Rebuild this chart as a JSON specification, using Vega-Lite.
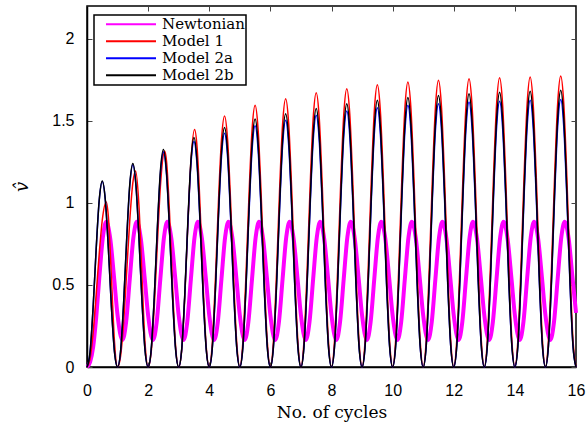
{
"$schema":"https://vega.github.io/schema/vega-lite/v6.json",
"autosize":{"type":"none"},
"width":489,"height":361,
"padding":{"left":87,"top":6,"right":11,"bottom":72},
"background":"white",
"datasets":{
"N":[{"x":0,"v":0},{"x":0.1,"v":0.03},{"x":0.2,"v":0.12},{"x":0.3,"v":0.3},{"x":0.4,"v":0.537},{"x":0.52,"v":0.792},{"x":0.63,"v":0.885},{"x":0.76,"v":0.783},{"x":0.89,"v":0.536},
{"x":1,"v":0.315},{"x":1.16,"v":0.165},{"x":1.28,"v":0.274},{"x":1.4,"v":0.537},{"x":1.52,"v":0.792},{"x":1.63,"v":0.885},{"x":1.76,"v":0.783},{"x":1.89,"v":0.536},
{"x":2,"v":0.315},{"x":2.16,"v":0.165},{"x":2.28,"v":0.274},{"x":2.4,"v":0.537},{"x":2.52,"v":0.792},{"x":2.63,"v":0.885},{"x":2.76,"v":0.783},{"x":2.89,"v":0.536},
{"x":3,"v":0.315},{"x":3.16,"v":0.165},{"x":3.28,"v":0.274},{"x":3.4,"v":0.537},{"x":3.52,"v":0.792},{"x":3.63,"v":0.885},{"x":3.76,"v":0.783},{"x":3.89,"v":0.536},
{"x":4,"v":0.315},{"x":4.16,"v":0.165},{"x":4.28,"v":0.274},{"x":4.4,"v":0.537},{"x":4.52,"v":0.792},{"x":4.63,"v":0.885},{"x":4.76,"v":0.783},{"x":4.89,"v":0.536},
{"x":5,"v":0.315},{"x":5.16,"v":0.165},{"x":5.28,"v":0.274},{"x":5.4,"v":0.537},{"x":5.52,"v":0.792},{"x":5.63,"v":0.885},{"x":5.76,"v":0.783},{"x":5.89,"v":0.536},
{"x":6,"v":0.315},{"x":6.16,"v":0.165},{"x":6.28,"v":0.274},{"x":6.4,"v":0.537},{"x":6.52,"v":0.792},{"x":6.63,"v":0.885},{"x":6.76,"v":0.783},{"x":6.89,"v":0.536},
{"x":7,"v":0.315},{"x":7.16,"v":0.165},{"x":7.28,"v":0.274},{"x":7.4,"v":0.537},{"x":7.52,"v":0.792},{"x":7.63,"v":0.885},{"x":7.76,"v":0.783},{"x":7.89,"v":0.536},
{"x":8,"v":0.315},{"x":8.16,"v":0.165},{"x":8.28,"v":0.274},{"x":8.4,"v":0.537},{"x":8.52,"v":0.792},{"x":8.63,"v":0.885},{"x":8.76,"v":0.783},{"x":8.89,"v":0.536},
{"x":9,"v":0.315},{"x":9.16,"v":0.165},{"x":9.28,"v":0.274},{"x":9.4,"v":0.537},{"x":9.52,"v":0.792},{"x":9.63,"v":0.885},{"x":9.76,"v":0.783},{"x":9.89,"v":0.536},
{"x":10,"v":0.315},{"x":10.16,"v":0.165},{"x":10.28,"v":0.274},{"x":10.4,"v":0.537},{"x":10.52,"v":0.792},{"x":10.63,"v":0.885},{"x":10.76,"v":0.783},{"x":10.89,"v":0.536},
{"x":11,"v":0.315},{"x":11.16,"v":0.165},{"x":11.28,"v":0.274},{"x":11.4,"v":0.537},{"x":11.52,"v":0.792},{"x":11.63,"v":0.885},{"x":11.76,"v":0.783},{"x":11.89,"v":0.536},
{"x":12,"v":0.315},{"x":12.16,"v":0.165},{"x":12.28,"v":0.274},{"x":12.4,"v":0.537},{"x":12.52,"v":0.792},{"x":12.63,"v":0.885},{"x":12.76,"v":0.783},{"x":12.89,"v":0.536},
{"x":13,"v":0.315},{"x":13.16,"v":0.165},{"x":13.28,"v":0.274},{"x":13.4,"v":0.537},{"x":13.52,"v":0.792},{"x":13.63,"v":0.885},{"x":13.76,"v":0.783},{"x":13.89,"v":0.536},
{"x":14,"v":0.315},{"x":14.16,"v":0.165},{"x":14.28,"v":0.274},{"x":14.4,"v":0.537},{"x":14.52,"v":0.792},{"x":14.63,"v":0.885},{"x":14.76,"v":0.783},{"x":14.89,"v":0.536},
{"x":15,"v":0.315},{"x":15.16,"v":0.165},{"x":15.28,"v":0.274},{"x":15.4,"v":0.537},{"x":15.52,"v":0.792},{"x":15.63,"v":0.885},{"x":15.76,"v":0.783},{"x":15.89,"v":0.536},
{"x":16,"v":0.33}],
"M1":[{"x":0,"v":0},{"x":0.1,"v":0.05},{"x":0.2,"v":0.207},{"x":0.3,"v":0.44},{"x":0.4,"v":0.69},{"x":0.5,"v":0.896},{"x":0.63,"v":1.006},{"x":0.7,"v":0.914},{"x":0.8,"v":0.542},{"x":0.9,"v":0.15},
{"x":1,"v":0},{"x":1.1,"v":0.068},{"x":1.2,"v":0.278},{"x":1.3,"v":0.585},{"x":1.4,"v":0.896},{"x":1.5,"v":1.123},{"x":1.59,"v":1.195},{"x":1.7,"v":0.982},{"x":1.8,"v":0.543},{"x":1.9,"v":0.145},
{"x":2,"v":0},{"x":2.1,"v":0.09},{"x":2.2,"v":0.363},{"x":2.3,"v":0.743},{"x":2.4,"v":1.097},{"x":2.5,"v":1.298},{"x":2.54,"v":1.317},{"x":2.6,"v":1.258},{"x":2.7,"v":0.939},{"x":2.8,"v":0.489},{"x":2.9,"v":0.125},
{"x":3,"v":0},{"x":3.1,"v":0.106},{"x":3.2,"v":0.429},{"x":3.3,"v":0.865},{"x":3.4,"v":1.252},{"x":3.52,"v":1.447},{"x":3.6,"v":1.343},{"x":3.7,"v":0.974},{"x":3.8,"v":0.498},{"x":3.9,"v":0.126},
{"x":4,"v":0},{"x":4.1,"v":0.146},{"x":4.2,"v":0.529},{"x":4.3,"v":1.001},{"x":4.4,"v":1.384},{"x":4.5,"v":1.53},{"x":4.6,"v":1.384},{"x":4.7,"v":1.001},{"x":4.8,"v":0.529},{"x":4.9,"v":0.146},
{"x":5,"v":0},{"x":5.1,"v":0.152},{"x":5.2,"v":0.551},{"x":5.3,"v":1.044},{"x":5.4,"v":1.443},{"x":5.5,"v":1.595},{"x":5.6,"v":1.443},{"x":5.7,"v":1.044},{"x":5.8,"v":0.551},{"x":5.9,"v":0.152},
{"x":6,"v":0},{"x":6.1,"v":0.156},{"x":6.2,"v":0.565},{"x":6.3,"v":1.07},{"x":6.4,"v":1.479},{"x":6.5,"v":1.635},{"x":6.6,"v":1.479},{"x":6.7,"v":1.07},{"x":6.8,"v":0.565},{"x":6.9,"v":0.156},
{"x":7,"v":0},{"x":7.1,"v":0.16},{"x":7.2,"v":0.578},{"x":7.3,"v":1.094},{"x":7.4,"v":1.512},{"x":7.5,"v":1.672},{"x":7.6,"v":1.512},{"x":7.7,"v":1.094},{"x":7.8,"v":0.578},{"x":7.9,"v":0.16},
{"x":8,"v":0},{"x":8.1,"v":0.162},{"x":8.2,"v":0.586},{"x":8.3,"v":1.11},{"x":8.4,"v":1.534},{"x":8.5,"v":1.696},{"x":8.6,"v":1.534},{"x":8.7,"v":1.11},{"x":8.8,"v":0.586},{"x":8.9,"v":0.162},
{"x":9,"v":0},{"x":9.1,"v":0.164},{"x":9.2,"v":0.594},{"x":9.3,"v":1.126},{"x":9.4,"v":1.556},{"x":9.5,"v":1.72},{"x":9.6,"v":1.556},{"x":9.7,"v":1.126},{"x":9.8,"v":0.594},{"x":9.9,"v":0.164},
{"x":10,"v":0},{"x":10.1,"v":0.166},{"x":10.2,"v":0.6},{"x":10.3,"v":1.137},{"x":10.4,"v":1.571},{"x":10.5,"v":1.737},{"x":10.6,"v":1.571},{"x":10.7,"v":1.137},{"x":10.8,"v":0.6},{"x":10.9,"v":0.166},
{"x":11,"v":0},{"x":11.1,"v":0.167},{"x":11.2,"v":0.604},{"x":11.3,"v":1.143},{"x":11.4,"v":1.58},{"x":11.5,"v":1.747},{"x":11.6,"v":1.58},{"x":11.7,"v":1.143},{"x":11.8,"v":0.604},{"x":11.9,"v":0.167},
{"x":12,"v":0},{"x":12.1,"v":0.168},{"x":12.2,"v":0.607},{"x":12.3,"v":1.15},{"x":12.4,"v":1.589},{"x":12.5,"v":1.757},{"x":12.6,"v":1.589},{"x":12.7,"v":1.15},{"x":12.8,"v":0.607},{"x":12.9,"v":0.168},
{"x":13,"v":0},{"x":13.1,"v":0.168},{"x":13.2,"v":0.609},{"x":13.3,"v":1.154},{"x":13.4,"v":1.595},{"x":13.5,"v":1.763},{"x":13.6,"v":1.595},{"x":13.7,"v":1.154},{"x":13.8,"v":0.609},{"x":13.9,"v":0.168},
{"x":14,"v":0},{"x":14.1,"v":0.169},{"x":14.2,"v":0.61},{"x":14.3,"v":1.157},{"x":14.4,"v":1.598},{"x":14.5,"v":1.767},{"x":14.6,"v":1.598},{"x":14.7,"v":1.157},{"x":14.8,"v":0.61},{"x":14.9,"v":0.169},
{"x":15,"v":0},{"x":15.1,"v":0.169},{"x":15.2,"v":0.613},{"x":15.3,"v":1.16},{"x":15.4,"v":1.604},{"x":15.5,"v":1.773},{"x":15.6,"v":1.604},{"x":15.7,"v":1.16},{"x":15.8,"v":0.613},{"x":15.9,"v":0.169},
{"x":16,"v":0}],
"M2a":[{"x":0,"v":0},{"x":0.1,"v":0.09},{"x":0.2,"v":0.362},{"x":0.3,"v":0.718},{"x":0.4,"v":1.015},{"x":0.5,"v":1.13},{"x":0.6,"v":1.015},{"x":0.7,"v":0.718},{"x":0.8,"v":0.362},{"x":0.9,"v":0.09},
{"x":1,"v":0},{"x":1.1,"v":0.099},{"x":1.2,"v":0.394},{"x":1.3,"v":0.782},{"x":1.4,"v":1.106},{"x":1.5,"v":1.232},{"x":1.6,"v":1.106},{"x":1.7,"v":0.782},{"x":1.8,"v":0.394},{"x":1.9,"v":0.099},
{"x":2,"v":0},{"x":2.1,"v":0.105},{"x":2.2,"v":0.419},{"x":2.3,"v":0.832},{"x":2.4,"v":1.176},{"x":2.5,"v":1.31},{"x":2.6,"v":1.176},{"x":2.7,"v":0.832},{"x":2.8,"v":0.419},{"x":2.9,"v":0.105},
{"x":3,"v":0},{"x":3.1,"v":0.11},{"x":3.2,"v":0.44},{"x":3.3,"v":0.873},{"x":3.4,"v":1.235},{"x":3.5,"v":1.375},{"x":3.6,"v":1.235},{"x":3.7,"v":0.873},{"x":3.8,"v":0.44},{"x":3.9,"v":0.11},
{"x":4,"v":0},{"x":4.1,"v":0.114},{"x":4.2,"v":0.456},{"x":4.3,"v":0.905},{"x":4.4,"v":1.28},{"x":4.5,"v":1.425},{"x":4.6,"v":1.28},{"x":4.7,"v":0.905},{"x":4.8,"v":0.456},{"x":4.9,"v":0.114},
{"x":5,"v":0},{"x":5.1,"v":0.118},{"x":5.2,"v":0.47},{"x":5.3,"v":0.933},{"x":5.4,"v":1.32},{"x":5.5,"v":1.47},{"x":5.6,"v":1.32},{"x":5.7,"v":0.933},{"x":5.8,"v":0.47},{"x":5.9,"v":0.118},
{"x":6,"v":0},{"x":6.1,"v":0.12},{"x":6.2,"v":0.481},{"x":6.3,"v":0.954},{"x":6.4,"v":1.35},{"x":6.5,"v":1.503},{"x":6.6,"v":1.35},{"x":6.7,"v":0.954},{"x":6.8,"v":0.481},{"x":6.9,"v":0.12},
{"x":7,"v":0},{"x":7.1,"v":0.123},{"x":7.2,"v":0.491},{"x":7.3,"v":0.974},{"x":7.4,"v":1.378},{"x":7.5,"v":1.534},{"x":7.6,"v":1.378},{"x":7.7,"v":0.974},{"x":7.8,"v":0.491},{"x":7.9,"v":0.123},
{"x":8,"v":0},{"x":8.1,"v":0.125},{"x":8.2,"v":0.499},{"x":8.3,"v":0.991},{"x":8.4,"v":1.401},{"x":8.5,"v":1.56},{"x":8.6,"v":1.401},{"x":8.7,"v":0.991},{"x":8.8,"v":0.499},{"x":8.9,"v":0.125},
{"x":9,"v":0},{"x":9.1,"v":0.126},{"x":9.2,"v":0.506},{"x":9.3,"v":1.003},{"x":9.4,"v":1.419},{"x":9.5,"v":1.58},{"x":9.6,"v":1.419},{"x":9.7,"v":1.003},{"x":9.8,"v":0.506},{"x":9.9,"v":0.126},
{"x":10,"v":0},{"x":10.1,"v":0.128},{"x":10.2,"v":0.51},{"x":10.3,"v":1.013},{"x":10.4,"v":1.432},{"x":10.5,"v":1.595},{"x":10.6,"v":1.432},{"x":10.7,"v":1.013},{"x":10.8,"v":0.51},{"x":10.9,"v":0.128},
{"x":11,"v":0},{"x":11.1,"v":0.128},{"x":11.2,"v":0.514},{"x":11.3,"v":1.019},{"x":11.4,"v":1.441},{"x":11.5,"v":1.605},{"x":11.6,"v":1.441},{"x":11.7,"v":1.019},{"x":11.8,"v":0.514},{"x":11.9,"v":0.128},
{"x":12,"v":0},{"x":12.1,"v":0.129},{"x":12.2,"v":0.517},{"x":12.3,"v":1.026},{"x":12.4,"v":1.45},{"x":12.5,"v":1.615},{"x":12.6,"v":1.45},{"x":12.7,"v":1.026},{"x":12.8,"v":0.517},{"x":12.9,"v":0.129},
{"x":13,"v":0},{"x":13.1,"v":0.13},{"x":13.2,"v":0.518},{"x":13.3,"v":1.029},{"x":13.4,"v":1.455},{"x":13.5,"v":1.62},{"x":13.6,"v":1.455},{"x":13.7,"v":1.029},{"x":13.8,"v":0.518},{"x":13.9,"v":0.13},
{"x":14,"v":0},{"x":14.1,"v":0.13},{"x":14.2,"v":0.52},{"x":14.3,"v":1.032},{"x":14.4,"v":1.459},{"x":14.5,"v":1.625},{"x":14.6,"v":1.459},{"x":14.7,"v":1.032},{"x":14.8,"v":0.52},{"x":14.9,"v":0.13},
{"x":15,"v":0},{"x":15.1,"v":0.13},{"x":15.2,"v":0.522},{"x":15.3,"v":1.035},{"x":15.4,"v":1.464},{"x":15.5,"v":1.63},{"x":15.6,"v":1.464},{"x":15.7,"v":1.035},{"x":15.8,"v":0.522},{"x":15.9,"v":0.13},
{"x":16,"v":0}],
"M2b":[{"x":0,"v":0},{"x":0.1,"v":0.091},{"x":0.2,"v":0.363},{"x":0.3,"v":0.72},{"x":0.4,"v":1.018},{"x":0.5,"v":1.134},{"x":0.6,"v":1.018},{"x":0.7,"v":0.72},{"x":0.8,"v":0.363},{"x":0.9,"v":0.091},
{"x":1,"v":0},{"x":1.1,"v":0.099},{"x":1.2,"v":0.397},{"x":1.3,"v":0.787},{"x":1.4,"v":1.114},{"x":1.5,"v":1.24},{"x":1.6,"v":1.114},{"x":1.7,"v":0.787},{"x":1.8,"v":0.397},{"x":1.9,"v":0.099},
{"x":2,"v":0},{"x":2.1,"v":0.106},{"x":2.2,"v":0.424},{"x":2.3,"v":0.841},{"x":2.4,"v":1.19},{"x":2.5,"v":1.325},{"x":2.6,"v":1.19},{"x":2.7,"v":0.841},{"x":2.8,"v":0.424},{"x":2.9,"v":0.106},
{"x":3,"v":0},{"x":3.1,"v":0.112},{"x":3.2,"v":0.447},{"x":3.3,"v":0.888},{"x":3.4,"v":1.255},{"x":3.5,"v":1.398},{"x":3.6,"v":1.255},{"x":3.7,"v":0.888},{"x":3.8,"v":0.447},{"x":3.9,"v":0.112},
{"x":4,"v":0},{"x":4.1,"v":0.117},{"x":4.2,"v":0.467},{"x":4.3,"v":0.926},{"x":4.4,"v":1.31},{"x":4.5,"v":1.459},{"x":4.6,"v":1.31},{"x":4.7,"v":0.926},{"x":4.8,"v":0.467},{"x":4.9,"v":0.117},
{"x":5,"v":0},{"x":5.1,"v":0.121},{"x":5.2,"v":0.484},{"x":5.3,"v":0.959},{"x":5.4,"v":1.357},{"x":5.5,"v":1.511},{"x":5.6,"v":1.357},{"x":5.7,"v":0.959},{"x":5.8,"v":0.484},{"x":5.9,"v":0.121},
{"x":6,"v":0},{"x":6.1,"v":0.124},{"x":6.2,"v":0.494},{"x":6.3,"v":0.98},{"x":6.4,"v":1.387},{"x":6.5,"v":1.544},{"x":6.6,"v":1.387},{"x":6.7,"v":0.98},{"x":6.8,"v":0.494},{"x":6.9,"v":0.124},
{"x":7,"v":0},{"x":7.1,"v":0.126},{"x":7.2,"v":0.504},{"x":7.3,"v":1.001},{"x":7.4,"v":1.415},{"x":7.5,"v":1.576},{"x":7.6,"v":1.415},{"x":7.7,"v":1.001},{"x":7.8,"v":0.504},{"x":7.9,"v":0.126},
{"x":8,"v":0},{"x":8.1,"v":0.128},{"x":8.2,"v":0.514},{"x":8.3,"v":1.019},{"x":8.4,"v":1.441},{"x":8.5,"v":1.605},{"x":8.6,"v":1.441},{"x":8.7,"v":1.019},{"x":8.8,"v":0.514},{"x":8.9,"v":0.128},
{"x":9,"v":0},{"x":9.1,"v":0.13},{"x":9.2,"v":0.52},{"x":9.3,"v":1.032},{"x":9.4,"v":1.459},{"x":9.5,"v":1.625},{"x":9.6,"v":1.459},{"x":9.7,"v":1.032},{"x":9.8,"v":0.52},{"x":9.9,"v":0.13},
{"x":10,"v":0},{"x":10.1,"v":0.131},{"x":10.2,"v":0.526},{"x":10.3,"v":1.043},{"x":10.4,"v":1.475},{"x":10.5,"v":1.643},{"x":10.6,"v":1.475},{"x":10.7,"v":1.043},{"x":10.8,"v":0.526},{"x":10.9,"v":0.131},
{"x":11,"v":0},{"x":11.1,"v":0.132},{"x":11.2,"v":0.53},{"x":11.3,"v":1.051},{"x":11.4,"v":1.486},{"x":11.5,"v":1.655},{"x":11.6,"v":1.486},{"x":11.7,"v":1.051},{"x":11.8,"v":0.53},{"x":11.9,"v":0.132},
{"x":12,"v":0},{"x":12.1,"v":0.133},{"x":12.2,"v":0.533},{"x":12.3,"v":1.058},{"x":12.4,"v":1.496},{"x":12.5,"v":1.666},{"x":12.6,"v":1.496},{"x":12.7,"v":1.058},{"x":12.8,"v":0.533},{"x":12.9,"v":0.133},
{"x":13,"v":0},{"x":13.1,"v":0.134},{"x":13.2,"v":0.536},{"x":13.3,"v":1.063},{"x":13.4,"v":1.503},{"x":13.5,"v":1.674},{"x":13.6,"v":1.503},{"x":13.7,"v":1.063},{"x":13.8,"v":0.536},{"x":13.9,"v":0.134},
{"x":14,"v":0},{"x":14.1,"v":0.134},{"x":14.2,"v":0.538},{"x":14.3,"v":1.067},{"x":14.4,"v":1.509},{"x":14.5,"v":1.68},{"x":14.6,"v":1.509},{"x":14.7,"v":1.067},{"x":14.8,"v":0.538},{"x":14.9,"v":0.134},
{"x":15,"v":0},{"x":15.1,"v":0.135},{"x":15.2,"v":0.54},{"x":15.3,"v":1.071},{"x":15.4,"v":1.514},{"x":15.5,"v":1.686},{"x":15.6,"v":1.514},{"x":15.7,"v":1.071},{"x":15.8,"v":0.54},{"x":15.9,"v":0.135},
{"x":16,"v":0}]
},
"layer":[
{"data":{"name":"N"},"mark":{"type":"line","interpolate":"monotone","strokeWidth":4},
 "encoding":{
  "x":{"field":"x","type":"quantitative","scale":{"domain":[0,16],"nice":false,"zero":false},
   "axis":{"values":[0,2,4,6,8,10,12,14,16],"format":"~g","labelFlush":false,"title":"No. of cycles","titleFont":"DejaVu Serif","titleFontSize":17,"titleFontWeight":"normal","titleColor":"black","titleY":50,"titleBaseline":"alphabetic","tickSize":-5,"labelPadding":20,"labelBaseline":"top"}},
  "y":{"field":"v","type":"quantitative","scale":{"domain":[0,2.2],"nice":false},
   "axis":{"values":[0,0.5,1,1.5,2],"format":"~g","labelFlush":false,"title":"v\u0302","titleFont":"DejaVu Serif","titleFontStyle":"italic","titleFontSize":18,"titleFontWeight":"normal","titleColor":"black","titleX":-60,"titleY":180.5,"titleAlign":"center","titleBaseline":"alphabetic","titleAngle":270,"tickSize":-5,"labelPadding":18}},
  "color":{"datum":"Newtonian","type":"nominal","scale":{"domain":["Newtonian","Model 1","Model 2a","Model 2b"],"range":["#ff00ff","#ff0000","#0000ff","#000000"]},
   "legend":{"orient":"none","legendX":7,"legendY":9,"title":null}}
 }},
{"data":{"name":"M1"},"mark":{"type":"line","interpolate":"monotone","strokeWidth":1.5},
 "encoding":{
  "x":{"field":"x","type":"quantitative","axis":null},
  "y":{"field":"v","type":"quantitative","axis":null},
  "color":{"datum":"Model 1","type":"nominal"}
 }},
{"data":{"name":"M2a"},"mark":{"type":"line","interpolate":"monotone","strokeWidth":1.5},
 "encoding":{
  "x":{"field":"x","type":"quantitative","axis":null},
  "y":{"field":"v","type":"quantitative","axis":null},
  "color":{"datum":"Model 2a","type":"nominal"}
 }},
{"data":{"name":"M2b"},"mark":{"type":"line","interpolate":"monotone","strokeWidth":1.5},
 "encoding":{
  "x":{"field":"x","type":"quantitative","axis":null},
  "y":{"field":"v","type":"quantitative","axis":null},
  "color":{"datum":"Model 2b","type":"nominal"}
 }},
{"data":{"name":"M2b"},"mark":{"type":"point","opacity":0},
 "encoding":{
  "x":{"field":"x","type":"quantitative","axis":{"orient":"top","values":[0,2,4,6,8,10,12,14,16],"labels":false,"domain":false,"title":null,"tickSize":-5}},
  "y":{"field":"v","type":"quantitative","axis":{"orient":"right","values":[0,0.5,1,1.5,2],"labels":false,"domain":false,"title":null,"tickSize":-5}}
 }}
],
"resolve":{"axis":{"x":"independent","y":"independent"}},
"config":{
 "view":{"stroke":"black","strokeWidth":1.5},
 "axis":{"grid":false,"labelFont":"Liberation Sans","labelFontSize":16,"labelColor":"black","tickColor":"#444444","tickWidth":1,"domainColor":"black","domainWidth":1.5},
 "legend":{"labelFont":"DejaVu Serif","labelFontSize":15,"labelColor":"black","symbolType":"stroke","symbolSize":2500,"symbolStrokeWidth":2,"strokeColor":"black","strokeWidth":1.5,"fillColor":"white","padding":1,"symbolOffset":10,"labelOffset":5,"clipHeight":16.4,"rowPadding":0,"cornerRadius":0,"labelLimit":300}
}
}
